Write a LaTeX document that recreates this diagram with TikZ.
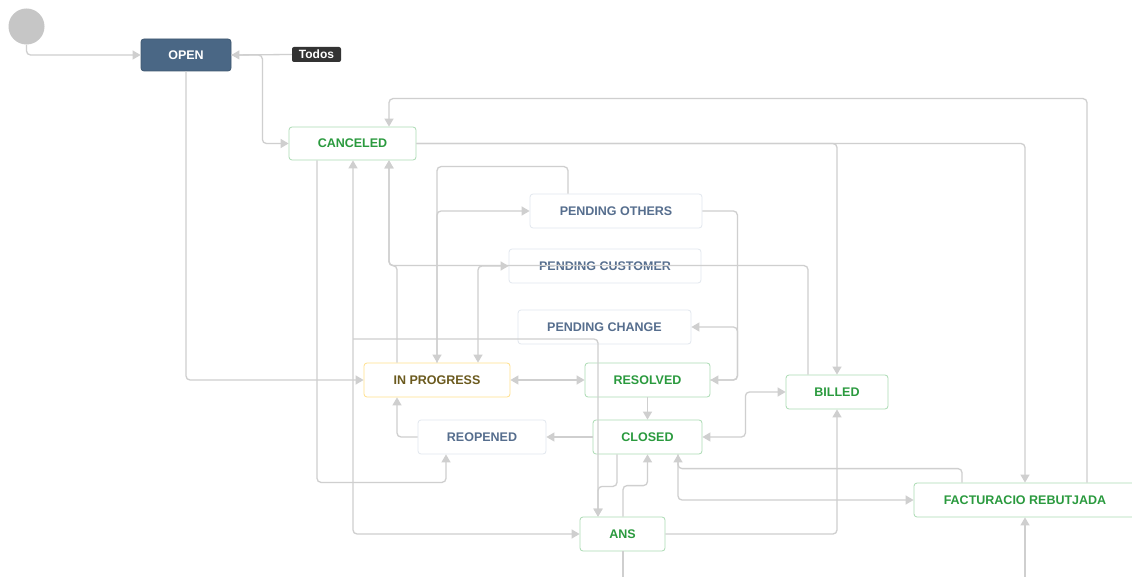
\documentclass[tikz,border=0pt]{standalone}
\usepackage{fontspec}
\setmainfont{Liberation Sans}
\usetikzlibrary{arrows.meta}
\definecolor{lg}{HTML}{CFCFCF}
\definecolor{greenb}{HTML}{ABDBB3}
\definecolor{greent}{HTML}{2A9A3E}
\definecolor{pendb}{HTML}{E2E7EE}
\definecolor{pendt}{HTML}{566E8E}
\definecolor{progb}{HTML}{FFE08C}
\definecolor{progt}{HTML}{6B5A1E}
\definecolor{openf}{HTML}{4A6785}
\definecolor{todosf}{HTML}{333333}
\definecolor{startf}{HTML}{C6C6C6}
\begin{document}
\begin{tikzpicture}[x=1pt,y=-1pt,
  conn/.style={draw=lg, line width=1.3pt, rounded corners=4pt, -{Triangle[length=8pt,width=9pt]}},
  bi/.style={conn, {Triangle[length=8pt,width=9pt]}-{Triangle[length=8pt,width=9pt]}},
  plain/.style={draw=lg, line width=1.3pt, rounded corners=4pt},
  box/.style={rounded corners=3pt, line width=0.8pt, minimum height=34pt, inner sep=0pt, font=\fontsize{12.5}{14}\selectfont\bfseries, fill=white},
  done/.style={box, draw=greenb, text=greent},
  pend/.style={box, draw=pendb, text=pendt},
  prog/.style={box, draw=progb, text=progt},
 ]
\fill[white] (0,0) rectangle (1132,577);
\useasboundingbox (0,0) rectangle (1132,577);
\clip (0,0) rectangle (1132,577);

% nodes
\node[circle, fill=startf, minimum size=36pt, inner sep=0pt] (start) at (26.5,26.5) {};
\node[box, fill=openf, draw=openf!85!black, text=white, minimum width=90pt, minimum height=32pt] (open) at (186,55) {OPEN};
\node[rounded corners=2pt, fill=todosf, text=white, minimum width=49pt, minimum height=15pt, inner sep=0pt, font=\fontsize{12}{13}\selectfont\bfseries] (todos) at (316.5,54.5) {Todos};
\node[done, minimum width=127pt, minimum height=33pt] (cancel) at (352.5,143.5) {CANCELED};
\node[pend, minimum width=172pt] (pothers) at (616,211) {PENDING OTHERS};
\node[pend, minimum width=192pt] (pcust) at (605,266) {PENDING CUSTOMER};
\node[pend, minimum width=173pt] (pchange) at (604.5,327) {PENDING CHANGE};
\node[prog, minimum width=146pt] (inprog) at (437,380) {IN PROGRESS};
\node[done, minimum width=125pt] (resolved) at (647.5,380) {RESOLVED};
\node[done, minimum width=109pt] (closed) at (647.5,437) {CLOSED};
\node[pend, minimum width=128pt] (reopen) at (482,437) {REOPENED};
\node[done, minimum width=102pt] (billed) at (837,392) {BILLED};
\node[done, minimum width=85pt] (ans) at (622.5,534) {ANS};
\node[done, minimum width=222pt] (fact) at (1025,500) {FACTURACIO REBUTJADA};

\coordinate (j1) at (353,339);
\coordinate (ansout) at (623,580);
\coordinate (factin) at (1025,580);

% connectors
\draw[conn] (start.south) |- (open.west);
\draw[conn] (todos.west) -- (open.east);
\draw[conn] (open.east) -- ++(31,0) |- (cancel.west);
\draw[conn] (open.south) |- (inprog.west);
\draw[conn] (cancel.east) -| (billed.north);
\draw[conn] (cancel.east) -| (fact.north);
\draw[conn] ([xshift=62pt]fact.north) -- ++(0,-384) -| ([xshift=36.5pt]cancel.north);
\draw[conn] ([xshift=-35.5pt]cancel.south) -- ++(0,322) -| ([xshift=-36pt]reopen.south);
\draw[bi] ([xshift=0.5pt]cancel.south) |- (ans.west);
\draw[conn] (j1) -| ([xshift=-24.5pt]ans.north);
\draw[conn] ([xshift=-40pt]inprog.north) -- ++(0,-97) -| ([xshift=36.5pt]cancel.south);
\draw[conn] ([xshift=-29pt]billed.north) -- ++(0,-109) -| ([xshift=36.5pt]cancel.south);
\draw[conn] ([xshift=-48pt]pothers.north) -- ++(0,-27) -| (inprog.north);
\draw[conn] (inprog.north) |- (pothers.west);
\draw[bi] ([xshift=41pt]inprog.north) |- (pcust.west);
\draw[conn] (resolved.east) -- ++(27,0) |- (pchange.east);
\draw[conn] (pothers.east) -- ++(35,0) |- (resolved.east);
\draw[bi] (inprog.east) -- (resolved.west);
\draw[conn] (resolved.south) -- (closed.north);
\draw[conn] (closed.west) -- (reopen.east);
\draw[conn] (reopen.west) -| ([xshift=-40pt]inprog.south);
\draw[bi] (closed.east) -- ++(43,0) |- (billed.west);
\draw[conn] ([xshift=-30.5pt]closed.south) -- ++(0,32) -| ([xshift=-24.5pt]ans.north);
\draw[conn] ([xshift=0.5pt]ans.north) -- ++(0,-31) -| (closed.south);
\draw[conn] ([xshift=30.5pt]closed.south) |- (fact.west);
\draw[conn] ([xshift=-63pt]fact.north) -- ++(0,-14) -| ([xshift=30.5pt]closed.south);
\draw[conn] (ans.east) -| (billed.south);
\draw[plain] ([xshift=0.5pt]ans.south) -- (ansout);
\draw[conn] (factin) -- (fact.south);
\end{tikzpicture}
\end{document}
